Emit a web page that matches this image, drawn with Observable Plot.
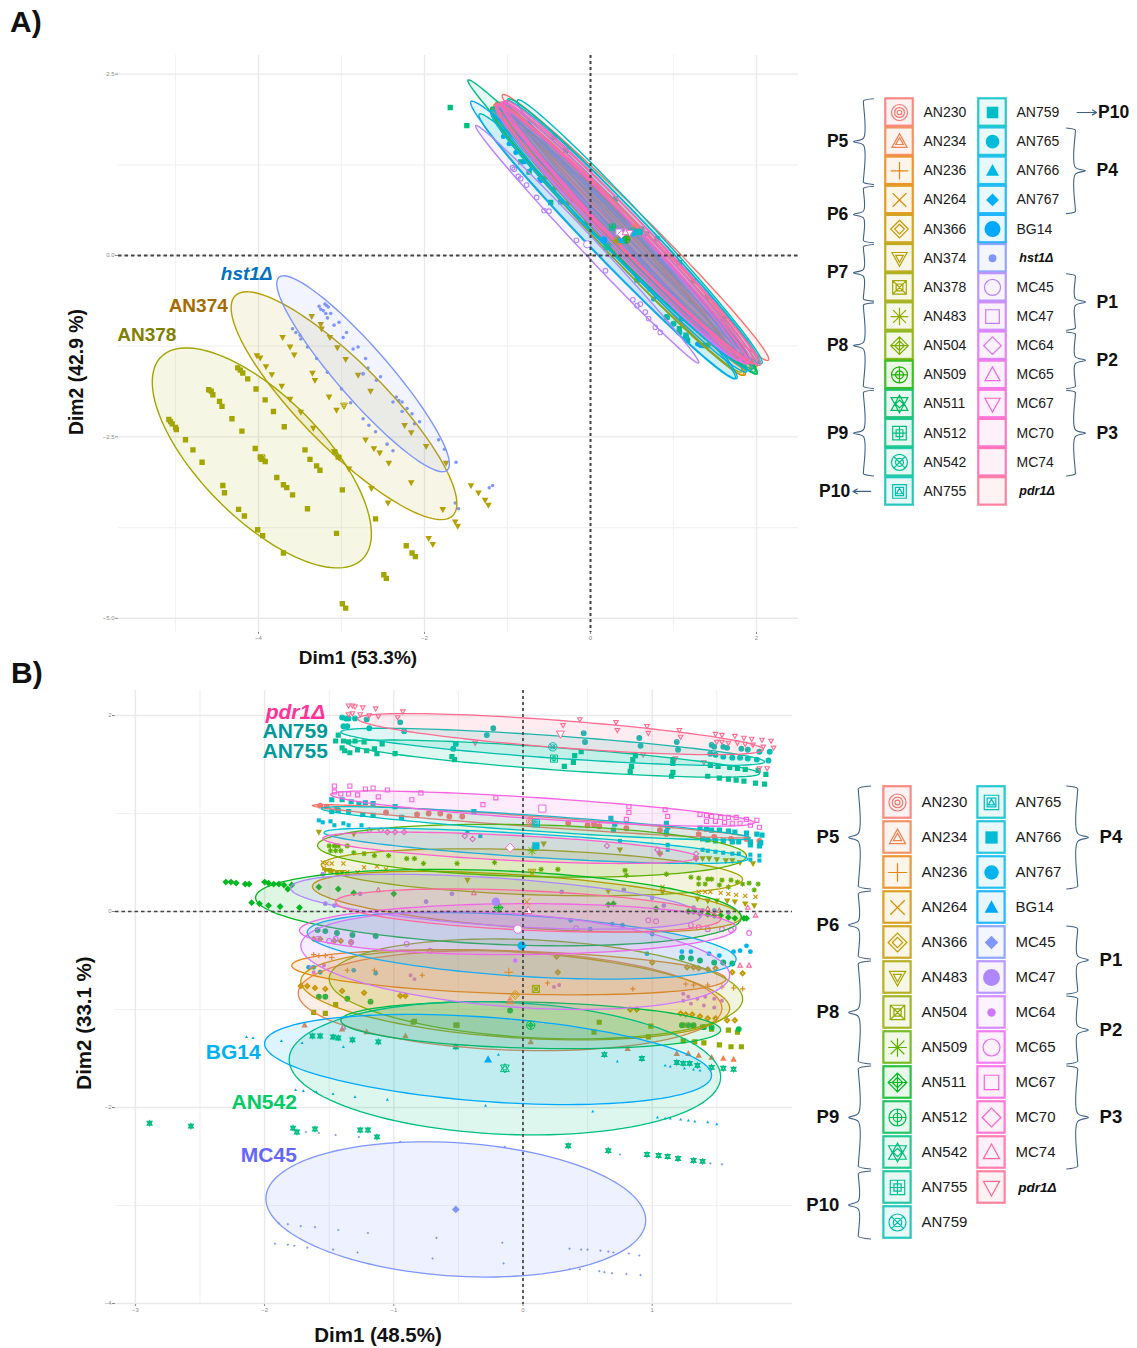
<!DOCTYPE html>
<html><head><meta charset="utf-8">
<script src="https://cdn.jsdelivr.net/npm/d3@7"></script>
<script src="https://cdn.jsdelivr.net/npm/@observablehq/plot@0.6"></script>
<style>
html,body{margin:0;padding:0;background:#fff;width:1137px;height:1348px;overflow:hidden;font-family:"Liberation Sans",Arial,sans-serif}
#page{position:relative;width:1137px;height:1348px}
#page>div{position:absolute}
#page svg{display:block;background:transparent}
.panel{font-weight:700;font-size:30px;color:#111}
.axl{font-weight:700;color:#111;white-space:nowrap;transform:translate(-50%,-50%)}
.axv{transform:translate(-50%,-50%) rotate(-90deg)}
</style></head><body><div id="page"></div>
<script>
// ---------- Panel A ----------
const namesA=["AN230","AN234","AN236","AN264","AN366","AN374","AN378","AN483","AN504","AN509","AN511","AN512","AN542","AN755","AN759","AN765","AN766","AN767","BG14","hst1Δ","MC45","MC47","MC64","MC65","MC67","MC70","MC74","pdr1Δ"];
const colorsA=["#F8766D","#F1814F","#E68613","#DE8C00","#C99800","#B5A000","#A3A500","#93AA00","#7CAE00","#1DB300","#00BA60","#00BF7D","#00C094","#00C0AF","#00BFC4","#00BBDA","#00B8E7","#00B0F6","#00A9FF","#7F96FF","#B385FF","#C77CFF","#DC71FA","#EF67EB","#FB61D7","#FF61C3","#FF64B0","#FF6C91"];
const shapesA=["ring","tri2","plus","cross","dia2","inv2","boxx","aster","diaplus","cirplus","star","boxplus","cirx","boxtri","fsquare","fcircle","ftri","fdia","fbig","fsmall","ocircle","osquare","odia","otri","oinv",null,null,null];
const meanXA=[.542,.432,.382,.372,.342,-2.97,-3.96,.311,.442,.432,.392,.265,.512,.201,.593,.512,.372,.362,.161,-2.74,-.04,.342,.372,.422,.472,.392,.462,.452];
const meanYA=[.386,.288,.253,.23,.196,-2.07,-2.79,.207,.276,.219,.219,.391,.334,.127,.327,.311,.207,.219,.214,-1.63,.155,.322,.288,.322,.311,.299,.322,.288];
const sdXA=[1.606,1.576,1.546,1.476,1.526,1.36,1.32,1.516,1.526,1.576,1.596,1.743,1.516,1.546,1.476,1.536,1.576,1.526,1.606,1.04,1.345,1.466,1.516,1.506,1.536,1.516,1.506,1.596];
const sdYA=[1.833,1.826,1.837,1.883,1.849,1.57,1.516,1.814,1.837,1.849,1.826,2.03,1.826,1.826,1.819,1.826,1.791,1.826,1.913,1.35,1.638,1.768,1.78,1.791,1.803,1.791,1.814,1.803];
const rhoA=[-.99,-.988,-.986,-.988,-.986,-.86,-.69,-.988,-.986,-.988,-.986,-.995,-.988,-.99,-.99,-.986,-.986,-.986,-.989,-.92,-.995,-.986,-.986,-.988,-.986,-.988,-.986,-.988];
const A_AN378=[[-5.08,-2.26],[-5.06,-2.29],[-5.04,-2.32],[-5,-2.37],[-4.99,-2.4],[-4.88,-2.54],[-4.79,-2.68],[-4.68,-2.85],[-4.6,-1.85],[-4.57,-1.87],[-4.55,-1.92],[-4.47,-2.01],[-4.44,-2.08],[-4.32,-2.25],[-4.2,-2.42],[-4.04,-2.66],[-3.98,-2.78],[-3.96,-2.81],[-3.92,-2.84],[-4.43,-3.17],[-4.41,-3.27],[-4.24,-3.5],[-4.17,-3.59],[-4.01,-3.78],[-3.95,-3.86],[-3.7,-4.1],[-4.25,-1.55],[-4.22,-1.58],[-4.19,-1.62],[-4.13,-1.7],[-4.03,-1.84],[-3.92,-1.99],[-3.82,-2.15],[-3.69,-2.36],[-3.44,-2.68],[-3.38,-2.81],[-3.3,-2.9],[-3.26,-2.96],[-3.78,-3.06],[-3.7,-3.16],[-3.66,-3.2],[-3.59,-3.3],[-3.41,-3.49],[-2.99,-3.23],[-3.06,-3.83],[-2.59,-3.63],[-2.22,-4],[-2.15,-4.1],[-2.11,-4.15],[-2.49,-4.4],[-2.46,-4.45],[-2.99,-4.8],[-2.95,-4.86],[-3.08,-2.71],[-3.04,-2.78]];
const A_AN374=[[-3.36,-.84],[-3.25,-.95],[-3.24,-1.01],[-3.14,-1.13],[-3.05,-1.27],[-2.95,-1.43],[-3.71,-1.13],[-3.62,-1.26],[-3.57,-1.37],[-4.02,-1.38],[-3.98,-1.41],[-3.91,-1.53],[-3.84,-1.64],[-3.72,-1.8],[-3.62,-1.98],[-3.49,-2.16],[-3.34,-2.38],[-3.35,-1.62],[-3.32,-1.72],[-3.15,-1.95],[-3.06,-2.13],[-2.8,-1.65],[-2.65,-1.87],[-2.71,-2.54],[-2.61,-2.66],[-2.54,-2.72],[-2.43,-2.86],[-2.16,-3.13],[-2.24,-2.34],[-2.16,-2.44],[-1.98,-2.63],[-1.74,-2.86],[-1.44,-3.17],[-1.35,-3.27],[-1.27,-3.37],[-1.23,-3.44],[-1.78,-3.5],[-1.63,-3.67],[-1.6,-3.73],[-1.95,-3.9],[-1.9,-3.98],[-3.09,-2.7],[-3.03,-2.79],[-2.91,-2.94],[-2.64,-3.21],[-2.44,-3.41]];
const A_hst1=[[-3.27,-.7],[-3.25,-.74],[-3.22,-.76],[-3.2,-.67],[-3.18,-.69],[-3.16,-.71],[-3.13,-.8],[-3.19,-.8],[-3.17,-.86],[-3.09,-.96],[-3.03,-.92],[-2.94,-1.06],[-2.98,-1.13],[-3.59,-1.01],[-3.55,-1.06],[-3.5,-1.1],[-3.49,-1.15],[-3.41,-1.26],[-3.3,-1.42],[-3.17,-1.61],[-3,-1.84],[-2.89,-2.03],[-2.86,-1.29],[-2.8,-1.26],[-2.71,-1.42],[-2.68,-1.55],[-2.58,-1.72],[-2.53,-1.67],[-2.34,-1.95],[-2.31,-2],[-2.38,-2.02],[-2.27,-2.02],[-2.21,-2.11],[-2.27,-2.15],[-2.15,-2.18],[-2.12,-2.32],[-2.06,-2.29],[-2.74,-2.25],[-2.67,-2.34],[-2.59,-2.43],[-2.45,-2.6],[-2.38,-2.69],[-1.83,-2.54],[-1.76,-2.67],[-1.62,-2.85],[-1.59,-3.49],[-1.63,-3.41],[-1.22,-3.2],[-1.18,-3.17]];
const A_MC45=[[-.94,1.21],[-.92,1.19],[-.87,1.09],[-.84,1.06],[-.77,.97],[-.65,.8],[-.56,.62],[-.5,.61],[-.17,.21],[.18,-.21],[.51,-.61],[.56,-.69],[.6,-.67],[.66,-.78],[.7,-.87],[.78,-.99],[.84,-1.06]];
const A_AN512=[[-1.69,2.04],[-1.49,1.79],[-.84,1.29],[-.74,1.15],[-.48,.73],[-.04,.46],[.92,-.85],[1.07,-1.01],[1.17,-1.17],[1.37,-1.24]];
const A_BG14=[[-1.05,1.64],[-.98,1.54],[-.9,1.42],[-.8,1.29],[-.78,1.31],[-.6,1.03],[-.36,.74],[.76,-.6],[1.29,-1.22],[1.33,-1.24]];
const A_AN755=[[-.36,.74],[.56,-.34],[.72,-.46],[1.1,-.87],[1.15,-1.1],[1.24,-.35],[1.07,-.1],[.3,.78],[.08,.94],[-.3,1.45],[-.44,1.63],[.6,.35],[.8,.23],[1.41,-.57],[1.61,-.87]];
const A_AN504=[[-.56,1.06],[-.42,.94],[-.26,.74],[.48,.3],[1.41,-1.24]];
const A_AN542=[[.92,-.85],[1,-.94],[1.07,-1.06],[1.15,-1.12]];
const A_AN767=[[1.29,-1.22],[1.31,-1.24],[-.78,1.29],[-.72,1.19],[-.62,1.06]];
const A_AN765=[[.62,.37],[.68,.3]];
const pointsA={AN378:A_AN378,AN374:A_AN374,"hst1Δ":A_hst1,MC45:A_MC45,AN512:A_AN512,BG14:A_BG14,AN755:A_AN755,AN504:A_AN504,AN542:A_AN542,AN767:A_AN767,AN765:A_AN765};
const calloutsA=["hst1Δ","AN374","AN378"], calloutXA=[-3.83,-4.37,-4.99], calloutYA=[-.25,-.7,-1.1], calloutColorA=["#0070C0","#A36C00","#808000"];

// ---------- Panel B ----------
const namesB=["AN230","AN234","AN236","AN264","AN366","AN483","AN504","AN509","AN511","AN512","AN542","AN755","AN759","AN765","AN766","AN767","BG14","MC45","MC47","MC64","MC65","MC67","MC70","MC74","pdr1Δ"];
const colorsB=["#F8766D","#F1814F","#E68613","#D89000","#C69900","#ABA300","#93AA00","#5FB000","#00B81F","#00BB4E","#00BF7D","#00C094","#00BFB0","#00BFC4","#00BCD8","#00B4EF","#00A9FF","#7F96FF","#AE87FF","#CF78FF","#ED68ED","#F763E0","#FF61CC","#FF68A1","#FF6C91"];
const shapesB=["ring","tri2","plus","cross","dia2","inv2","boxx","aster","diaplus","cirplus","star","boxplus","cirx","boxtri","fsquare","fcircle","ftri","fdia","fbig","fsmall","ocircle","osquare","odia","otri","oinv"];
const meanXB=[.06,-.1,-.11,.03,-.06,.07,.1,.07,-.19,.06,-.14,.24,.23,.1,.1,-.01,-.27,-.52,-.21,-.06,-.04,.15,-.1,.04,.29];
const meanYB=[.92,-.91,-.62,.1,-.85,.4,-.79,.62,.04,-1.16,-1.6,1.56,1.68,.9,.67,-.35,-1.51,-3.04,.1,-.5,-.18,1.05,.65,.01,1.81];
const sdXB=[1.69,1.64,1.68,1.66,1.66,1.63,1.6,1.66,1.88,1.47,1.67,1.59,1.64,1.66,1.64,1.66,1.73,1.47,1.59,1.66,1.69,1.64,1.45,1.49,1.57];
const sdYB=[.17,.51,.23,.31,.46,.24,.51,.27,.39,.24,.68,.19,.19,.17,.18,.34,.46,.69,.28,.5,.26,.18,.16,.22,.21];
const rhoB=[-.95,-.15,-.3,-.5,-.3,-.3,-.2,-.2,-.26,-.2,-.13,-.8,-.8,-.88,-.75,-.4,-.35,-.16,-.5,-.3,.05,-.8,-.6,-.4,-.75];
const B_AN230=[[-1.57,1.08],[-1.52,1.07],[-1.44,1.05],[-1.06,1.01],[-.82,.99],[-.73,1],[-.64,1],[-.57,.97],[-.47,.97],[.35,.9],[.5,.88],[.55,.89],[.59,.87],[.8,.85],[1.06,.83],[1.11,.79],[1.36,.79],[1.48,.76],[1.61,.74],[1.73,.74],[1.83,.72]];
const B_AN234=[[-1.69,-1.16],[-1.4,-1.2],[-1.21,-1.23],[-.91,-1.27],[.06,-1.33],[.81,-1.4],[1.19,-1.45],[1.28,-1.45],[1.36,-1.47],[1.46,-1.49],[1.55,-1.5],[1.63,-1.51]];
const B_AN236=[[-1.62,-.44],[-1.58,-.45],[-1.53,-.45],[-1.48,-.47],[-1.36,-.6],[-1.15,-.6],[-.78,-.65],[.19,-.73],[.85,-.79],[1.26,-.74],[1.32,-.75],[1.43,-.75],[1.54,-.77],[1.63,-.78],[1.7,-.79]];
const B_AN264=[[-1.55,.5],[-1.52,.49],[-1.48,.49],[-1.39,.49],[-1.23,.45],[-1.13,.46],[-1.06,.43],[-1.54,.44],[-1.36,.4],[-1.28,.4],[1.08,.25],[1.36,.2],[1.41,.2],[1.45,.2],[1.53,.19],[1.59,.18],[1.65,.17],[1.72,.16],[1.8,.15]];
const B_AN366=[[1.27,-.57],[1.32,-.57],[1.36,-.58],[1.43,-.59],[1.49,-.58],[1.62,-.62],[1.7,-.63],[1.22,-1.04],[1.26,-1.05],[1.31,-1.05],[1.37,-1.07],[1.43,-1.09],[1.49,-1.09],[1.58,-1.11],[1.64,-1.11],[.83,-1],[.88,-1],[1,-.52],[.26,-.46],[.27,-.62],[-1.62,-.28],[-1.57,-.28],[-1.46,-.3],[-1.41,-.3],[-1.33,-.32],[-1.72,-.76],[-1.67,-.76],[-1.61,-.78],[-1.53,-.79],[-1.4,-.81],[-1.23,-.83],[-.95,-.86],[-.91,-.86]];
const B_AN483=[[-1.58,.81],[-1.31,.79],[-1.53,.42],[-1.5,.42],[-1.48,.41],[-1.44,.4],[-1.4,.4],[-.43,.32],[.16,.69],[.75,.63],[1.06,.59],[1.34,.54],[1.39,.54],[1.44,.54],[1.5,.53],[1.57,.52],[1.62,.52],[1.68,.5],[1.78,.49],[.66,.21],[1.08,.2],[1.35,.13],[1.43,.11],[1.5,.11],[1.58,.11],[1.64,.1],[1.72,.08],[1.79,.06]];
const B_AN504=[[1.24,-1.32],[1.33,-1.33],[1.4,-1.34],[1.52,-1.36],[1.61,-1.38],[1.69,-1.38],[1.24,-1.16],[1.32,-1.17],[1.39,-1.18],[1.46,-1.2],[1.59,-1.21],[1.66,-1.23],[-.85,-1.13],[-.52,-1.16],[.55,-1.23],[.59,-1.13],[.97,-1.28],[.99,-1.17],[-1.62,-1.03],[-1.53,-1.04],[-1.45,-.95],[-.84,-1.12],[-.51,-1.16]];
const B_AN509=[[-1.5,.67],[-1.46,.67],[-1.43,.67],[-1.49,.62],[-1.45,.62],[-1.41,.62],[-1.36,.67],[-1.31,.6],[-1.23,.59],[-1.15,.57],[-1.04,.57],[-.9,.54],[-.84,.54],[-.77,.49],[-.51,.49],[-.22,.5],[.14,.43],[.27,.43],[.79,.42],[.8,.37],[1.11,.38],[1.3,.35],[1.36,.34],[1.43,.33],[1.46,.33],[1.54,.32],[1.61,.32],[1.66,.3],[1.75,.29],[1.82,.28],[1.36,.28],[1.41,.28],[1.52,.27],[1.59,.25],[1.7,.28],[1.79,.22]];
const B_AN511=[[-2.3,.3],[-2.26,.3],[-2.22,.29],[-2.15,.28],[-2.12,.28],[-2,.3],[-1.97,.29],[-1.93,.28],[-1.89,.28],[-1.85,.27],[-1.79,.27],[-1.82,.23],[-2.1,.09],[-2.04,.08],[-1.97,.06],[-1.88,.05],[-1.73,.04],[-1.58,.25],[-1.43,.23],[-1.31,.19],[-1,.18],[.66,.07],[.7,.08],[1.03,.03],[1.28,0],[1.32,0],[1.37,-.02],[1.43,-.03],[1.48,-.04],[1.53,-.04],[1.59,-.06],[1.64,-.07],[1.71,-.07],[1.73,-.07]];
const B_AN512=[[1.23,-.47],[1.3,-.48],[1.37,-.5],[1.48,-.52],[1.55,-.52],[1.62,-.53],[1.23,-1.16],[1.28,-1.16],[1.32,-1.16],[1.4,-1.18],[1.46,-1.18],[1.67,-1.2],[-1.59,-.19],[-1.53,-.2],[-1.44,-.22],[-1.32,-.24],[-1.14,-.25],[-1.58,-.87],[-1.53,-.87],[-1.36,-.89],[-1.18,-.92],[-.1,-1.01]];
const B_AN542=[[-2.89,-2.16],[-2.57,-2.19],[-1.78,-2.21],[-1.75,-2.25],[-1.61,-2.22],[-1.26,-2.23],[-1.2,-2.23],[-1.13,-2.3],[-1.63,-1.27],[-1.57,-1.27],[-1.47,-1.28],[-1.43,-1.29],[-1.32,-1.31],[-1.12,-1.33],[-.52,-1.38],[.63,-1.46],[.92,-1.5],[1.19,-1.54],[1.24,-1.55],[1.29,-1.55],[1.35,-1.57],[1.46,-1.59],[1.55,-1.6],[1.63,-1.61],[.35,-2.39],[.66,-2.44],[.96,-2.48],[1.05,-2.49],[1.12,-2.5],[1.2,-2.52],[1.32,-2.54],[1.39,-2.55]];
const B_AN755=[[-1.43,1.8],[-1.45,1.74],[-1.39,1.74],[-1.35,1.73],[-1.3,1.74],[-1.23,1.73],[-1.09,1.71],[-1.4,1.67],[-1.38,1.64],[-1.34,1.62],[-1.28,1.65],[-1.21,1.64],[-1.15,1.66],[-1.13,1.61],[-.99,1.61],[-.55,1.58],[-.53,1.55],[.4,1.59],[.45,1.63],[.39,1.52],[.32,1.48],[.87,1.59],[.85,1.55],[.84,1.48],[.83,1.43],[1.16,1.55],[1.16,1.51],[1.16,1.42],[1.15,1.38],[1.45,1.49],[1.51,1.48],[1.6,1.47],[1.66,1.46],[1.72,1.45],[1.82,1.44],[1.88,1.4],[1.43,1.38],[1.52,1.36],[1.59,1.35],[1.65,1.34],[1.71,1.33],[1.8,1.31],[1.87,1.3]];
const B_AN759=[[-1.4,1.98],[-1.37,1.97],[-1.35,1.97],[-1.3,1.97],[-1.21,1.96],[-.95,1.93],[-.92,1.84],[-1.39,1.89],[-1.36,1.89],[-1.19,1.87],[-.23,1.87],[-.28,1.8],[-.52,1.71],[-.54,1.66],[.47,1.82],[.48,1.73],[.9,1.77],[.91,1.69],[1.19,1.73],[1.2,1.65],[1.46,1.7],[1.48,1.68],[1.55,1.68],[1.58,1.67],[1.69,1.66],[1.74,1.65],[1.83,1.63],[1.91,1.63],[1.45,1.61],[1.49,1.6],[1.55,1.58],[1.62,1.57],[1.68,1.57],[1.74,1.56],[1.81,1.55],[1.9,1.54]];
const B_AN765=[[-1.48,1.14],[-1.4,1.14],[-1.33,1.12],[-1.27,1.1],[-1.22,1.11],[-1.16,1.1],[-1.48,1.02],[-1.43,1.03],[-1.35,1.02],[-1.24,.99],[-1.16,.98],[-.99,1.07],[-.94,.96],[-.38,1.02],[.68,.95],[.71,.89],[.7,.83],[1.11,.9],[1.12,.86],[1.11,.81],[1.37,.85],[1.42,.84],[1.46,.83],[1.52,.83],[1.59,.82],[1.64,.81],[1.73,.8],[1.81,.79],[1.85,.78],[1.39,.74],[1.43,.73],[1.49,.72],[1.55,.72],[1.62,.71],[1.67,.71],[1.76,.71],[1.84,.7],[1.76,.68],[1.83,.67]];
const B_AN766=[[-1.58,.93],[-1.55,.91],[-1.49,.92],[-1.46,.88],[-1.39,.9],[-1.35,.88],[-1.25,.88],[-.43,.81],[-.33,.77],[.75,.72],[1.12,.68],[1.12,.63],[1.39,.63],[1.43,.62],[1.49,.61],[1.55,.6],[1.62,.59],[1.67,.59],[1.76,.58],[1.83,.57],[1.76,.53],[1.83,.52]];
const B_AN767=[[1.23,-.41],[1.3,-.41],[1.44,-.43],[1.52,-.45],[1.63,-.41],[1.68,-.4],[1.73,-.35],[1.76,-.41],[-1.66,-.57],[-1.62,-.57],[-1.57,-.62],[-1.31,-.6],[-1.14,-.63],[.37,-.09],[.52,-.18],[.69,-.13],[.77,-.14],[1,-.23],[.96,-.43]];
const B_BG14=[[-2.14,-1.28],[-2.09,-1.29],[-1.87,-1.32],[-1.71,-1.34],[-1.39,-1.38],[-1.76,-1.82],[-1.7,-1.83],[-1.6,-1.84],[-1.47,-1.86],[-1.3,-1.89],[-1.05,-1.92],[-.29,-1.98],[.54,-2.04],[.73,-1.53],[-.19,-1.46],[1.1,-1.57],[1.14,-1.58],[1.25,-1.6],[1.32,-1.61],[1.37,-1.62],[1.04,-2.1],[1.1,-2.11],[1.14,-2.11],[1.22,-2.12],[1.28,-2.13],[1.33,-2.14],[1.43,-2.15],[1.5,-2.17]];
const B_MC45=[[-1.89,-3.18],[-1.82,-3.19],[-1.72,-3.21],[-1.61,-3.22],[-1.43,-3.25],[-1.2,-3.28],[-.67,-3.33],[-.16,-3.38],[-1.92,-3.39],[-1.82,-3.4],[-1.77,-3.41],[-1.67,-3.43],[-1.47,-3.45],[-1.28,-3.48],[-.7,-3.54],[-.15,-3.59],[.36,-3.44],[.45,-3.45],[.5,-3.45],[.6,-3.46],[.66,-3.47],[.7,-3.48],[.82,-3.49],[.9,-3.51],[.36,-3.65],[.44,-3.65],[.59,-3.67],[.63,-3.68],[.69,-3.69],[.8,-3.7],[.91,-3.71],[.75,-2.48],[1.45,-2.57],[1.54,-2.58],[-.95,-2.35],[-.14,-2.4],[-1.45,-2.28],[-1.27,-2.3],[-1.68,-2.25],[-1.58,-2.26]];
const B_MC47=[[-1.55,.38],[-1.46,.06],[-1.53,.08],[-1.26,.18],[-.75,.1],[-.55,.18],[.3,.2],[.78,.22],[1,.14],[1.09,.06],[1.32,.04],[1.39,.01],[1.48,.01],[1.59,-.01]];
const B_MC64=[[1.24,-.84],[1.28,-.87],[1.35,-.89],[1.41,-.87],[1.48,-.89],[1.54,-.91],[1.24,-.91],[1.3,-.94],[1.4,-.96],[1.48,-.98],[.24,-.77],[.28,-.75],[-1.64,-.57],[-1.62,-.62],[-1.54,-.55],[-.87,-.65],[-.84,-.69]];
const B_MC65=[[1.3,-.14],[1.36,-.16],[1.43,-.18],[1.54,-.18],[1.61,-.19],[1.75,-.22],[.97,-.09],[1.03,-.1],[.41,-.17],[-1.59,-.28],[-1.5,-.3],[-1.45,-.28],[-1.33,-.31],[-.9,-.33],[-.72,-.4]];
const B_MC67=[[-1.46,1.28],[-1.46,1.22],[-1.34,1.28],[-1.22,1.25],[-1.16,1.26],[-1.05,1.24],[-1.35,1.2],[-1.41,1.2],[-1.28,1.19],[-1.12,1.17],[-.86,1.14],[-.79,1.21],[-.31,1.09],[-.21,1.16],[.82,1.07],[.82,1.01],[1.1,1.04],[1.12,.97],[1.37,.99],[1.42,.98],[1.46,.97],[1.53,.96],[1.59,.96],[1.65,.96],[1.73,.94],[1.81,.93],[1.42,.92],[1.49,.92],[1.56,.91],[1.62,.9],[1.68,.9],[1.76,.88],[1.83,.86],[.8,.94]];
const B_MC70=[[-1.19,.83],[-1.1,.83],[-1.05,.81],[-.99,.81],[-.92,.81],[-.45,.77],[-.39,.74],[.65,.67],[1.04,.63],[1.06,.59],[1.34,.59],[1.34,.54]];
const B_MC74=[[-1.12,.22],[-.38,.19],[1.43,.03],[1.52,.01],[1.8,-.04],[1.75,-.55],[1.68,-.55],[1.74,.04],[-1.39,-1.18]];
const B_pdr1=[[-1.35,2.1],[-1.32,2.1],[-1.3,2.09],[-1.24,2.08],[-1.14,2.07],[-1.35,2.01],[-1.32,2.02],[-1.26,2.01],[-1.19,2],[-1.12,1.99],[-.97,1.98],[-.93,2.04],[-.37,1.72],[.31,1.9],[.44,1.96],[.72,1.93],[.73,1.85],[.96,1.89],[.97,1.82],[1.21,1.85],[1.22,1.78],[1.49,1.81],[1.54,1.8],[1.64,1.79],[1.71,1.77],[1.77,1.76],[1.85,1.75],[1.92,1.74],[1.5,1.73],[1.54,1.73],[1.59,1.72],[1.66,1.72],[1.72,1.71],[1.78,1.7],[1.86,1.68],[1.94,1.67],[1.89,1.46],[1.4,1.52],[1.83,1.46],[1.18,1.56],[.93,1.6]];
const pointsB={AN230:B_AN230,AN234:B_AN234,AN236:B_AN236,AN264:B_AN264,AN366:B_AN366,AN483:B_AN483,AN504:B_AN504,AN509:B_AN509,AN511:B_AN511,AN512:B_AN512,AN542:B_AN542,AN755:B_AN755,AN759:B_AN759,AN765:B_AN765,AN766:B_AN766,AN767:B_AN767,BG14:B_BG14,MC45:B_MC45,MC47:B_MC47,MC64:B_MC64,MC65:B_MC65,MC67:B_MC67,MC70:B_MC70,MC74:B_MC74,"pdr1Δ":B_pdr1};
const calloutsB=["pdr1Δ","AN759","AN755","BG14","AN542","MC45"], calloutXB=[-1.53,-1.51,-1.51,-2.03,-1.75,-1.75], calloutYB=[2.03,1.84,1.64,-1.44,-1.95,-2.49], calloutColorB=["#FF3399","#009999","#009999","#00B0F0","#00CC66","#6666FF"];

// ---------- Legend groupings ----------
const bracketsA=[["P5",0,0,2],["P6",0,3,4],["P7",0,5,6],["P8",0,7,9],["P9",0,10,12],["P4",1,1,3],["P1",1,6,7],["P2",1,8,9],["P3",1,10,12]];
const bracketsB=[["P5",0,0,2],["P6",0,3,4],["P8",0,5,7],["P9",0,8,10],["P10",0,11,12],["P4",1,0,2],["P1",1,4,5],["P2",1,6,7],["P3",1,8,10]];

// ---------- Glyphs ----------
function circ(c,r){c.moveTo(r,0);c.arc(0,0,r,0,2*Math.PI);c.closePath();}
function poly(c,pts,r){pts.forEach((p,i)=>i?c.lineTo(p[0]*r,p[1]*r):c.moveTo(p[0]*r,p[1]*r));c.closePath();}
function seg(c,a,b,r){c.moveTo(a[0]*r,a[1]*r);c.lineTo(b[0]*r,b[1]*r);}
const TRI=[[0,-1],[.95,.72],[-.95,.72]],INV=[[0,1],[.95,-.72],[-.95,-.72]],DIA=[[0,-1.1],[1.1,0],[0,1.1],[-1.1,0]],SQ=[[-.85,-.85],[.85,-.85],[.85,.85],[-.85,.85]];
const scale=(p,k)=>p.map(q=>[q[0]*k,q[1]*k]);
const glyphs={
 ring:(c,r)=>{circ(c,r);circ(c,r*.62);circ(c,r*.28);},
 tri2:(c,r)=>{poly(c,TRI,r);poly(c,scale(TRI,.5),r);},
 plus:(c,r)=>{seg(c,[-1.1,0],[1.1,0],r);seg(c,[0,-1.1],[0,1.1],r);},
 cross:(c,r)=>{seg(c,[-.85,-.85],[.85,.85],r);seg(c,[-.85,.85],[.85,-.85],r);},
 dia2:(c,r)=>{poly(c,DIA,r);poly(c,scale(DIA,.55),r);},
 inv2:(c,r)=>{poly(c,INV,r);poly(c,scale(INV,.5),r);},
 boxx:(c,r)=>{poly(c,SQ,r);poly(c,scale(SQ,.5),r);seg(c,[-.85,-.85],[.85,.85],r);seg(c,[-.85,.85],[.85,-.85],r);},
 aster:(c,r)=>{seg(c,[-1.1,0],[1.1,0],r);seg(c,[0,-1.1],[0,1.1],r);seg(c,[-.8,-.8],[.8,.8],r);seg(c,[-.8,.8],[.8,-.8],r);},
 diaplus:(c,r)=>{poly(c,DIA,r);poly(c,scale(DIA,.55),r);seg(c,[-1.1,0],[1.1,0],r);seg(c,[0,-1.1],[0,1.1],r);},
 cirplus:(c,r)=>{circ(c,r);circ(c,r*.5);seg(c,[-1,0],[1,0],r);seg(c,[0,-1],[0,1],r);},
 star:(c,r)=>{poly(c,scale(TRI,1.1),r);poly(c,scale(INV,1.1),r);poly(c,scale(DIA,.45),r);},
 boxplus:(c,r)=>{poly(c,SQ,r);poly(c,scale(SQ,.5),r);seg(c,[-.85,0],[.85,0],r);seg(c,[0,-.85],[0,.85],r);},
 cirx:(c,r)=>{circ(c,r);circ(c,r*.5);seg(c,[-.72,-.72],[.72,.72],r);seg(c,[-.72,.72],[.72,-.72],r);},
 boxtri:(c,r)=>{poly(c,SQ,r);poly(c,scale(SQ,.6),r);poly(c,scale(TRI,.4),r);},
 fsquare:(c,r)=>poly(c,SQ,r), fcircle:circ, ftri:(c,r)=>poly(c,TRI,r), fdia:(c,r)=>poly(c,scale(DIA,.85),r), fbig:circ, fsmall:(c,r)=>circ(c,r*.55),
 ocircle:circ, osquare:(c,r)=>poly(c,SQ,r), odia:(c,r)=>poly(c,DIA,r), otri:(c,r)=>poly(c,TRI,r), oinv:(c,r)=>poly(c,INV,r)
};
const symbolOf=k=>({draw(ctx,size){glyphs[k](ctx,Math.sqrt(size/Math.PI));}});
const isFilled=k=>k[0]==="f", isOpen=k=>k[0]==="o";

function ellipsePath(mx,my,sx,sy,rho){const phi=Math.acos(rho);return d3.range(0,121).map(i=>{const t=i/120*2*Math.PI;return {x:mx+sx*Math.cos(t),y:my+sy*Math.cos(t+phi)};});}

function scatterMarks(names,colors,shapes,pts,mx,my,sx,sy,rho,rp,rm,ew,fo){
  const out=[];
  names.forEach((n,i)=>{const k=shapes[i];if(k&&pts[n])out.push(Plot.dot(pts[n],{x:d=>d[0],y:d=>d[1],r:rp(n,k),symbol:symbolOf(k),stroke:colors[i],strokeWidth:isFilled(k)?0:1.1,fill:isFilled(k)?colors[i]:"none"}));});
  names.forEach((n,i)=>{out.push(Plot.line(ellipsePath(mx[i],my[i],sx[i],sy[i],rho[i]),{x:"x",y:"y",stroke:colors[i],strokeWidth:ew,fill:colors[i],fillOpacity:fo}));});
  names.forEach((n,i)=>{const k=shapes[i];if(k)out.push(Plot.dot([[mx[i],my[i]]],{x:d=>d[0],y:d=>d[1],r:rm,symbol:symbolOf(k),stroke:colors[i],strokeWidth:isFilled(k)?0:1,fill:isFilled(k)?colors[i]:(isOpen(k)?"white":"none")}));});
  return out;
}

function chart(o){
 return Plot.plot({width:o.w,height:o.h,marginLeft:o.ml,marginRight:o.mr,marginTop:o.mt,marginBottom:o.mb,
  style:{fontFamily:"Liberation Sans",background:"transparent"},
  x:{domain:o.xd,label:null},y:{domain:o.yd,label:null},
  marks:[
   Plot.ruleX(o.xMinor,{stroke:"#f2f2f2",strokeWidth:1.2}),Plot.ruleY(o.yMinor,{stroke:"#f2f2f2",strokeWidth:1.2}),
   Plot.ruleX(o.xMajor,{stroke:"#e9e9e9",strokeWidth:1.4}),Plot.ruleY(o.yMajor,{stroke:"#e9e9e9",strokeWidth:1.4}),
   Plot.axisX({ticks:o.xMajor,tickSize:2,tickPadding:1,fontSize:6,color:"#8a8a8a",label:null,tickFormat:o.xf}),
   Plot.axisY({ticks:o.yMajor,tickSize:3,tickPadding:1,fontSize:6,color:"#8a8a8a",label:null,tickFormat:o.yf}),
   ...o.marks,
   Plot.ruleX([0],{stroke:"#444",strokeWidth:o.zw,strokeDasharray:"3 3"}),Plot.ruleY([0],{stroke:"#444",strokeWidth:o.zw,strokeDasharray:"3.5 3"}),
   ...o.calloutNames.map((n,i)=>Plot.text([n],{x:o.calloutX[i],y:o.calloutY[i],text:d=>d,fill:o.calloutColor[i],textAnchor:"end",fontSize:o.cf,fontWeight:700,fontStyle:n.includes("Δ")?"italic":"normal"}))
  ]});
}

function legend(o){
 const rows=[];
 o.names.forEach((n,i)=>{const col=i<o.split?0:1,row=i<o.split?i:i-o.split;rows.push({name:n,col,row,color:o.colors[i],k:o.shapes[i]});});
 const plain=rows.filter(d=>!d.name.includes("Δ")),ital=rows.filter(d=>d.name.includes("Δ"));
 const dots=rows.filter(d=>d.k).map(d=>{
   const f=isFilled(d.k),big=d.k==="fbig",rr=f?(big?o.r*1.0:(d.k==="fsmall"?o.r*.9:o.r*.85)):o.r;
   return Plot.dot([d],{x:"col",y:"row",r:rr,symbol:symbolOf(d.k),stroke:d.color,strokeWidth:f?0:1.2,fill:f?d.color:"none"});
 });
 const br=[];
 o.brackets.forEach(([lab,side,a,b])=>{
   const from=a-.47,to=b+.47,mid=(from+to)/2,left=side===0;
   const open=left?-o.open:o.openR,spine=left?-o.spine:o.spineR,nose=left?-o.nose:o.noseR;
   const path=[[open,from],[spine,from+.07],[spine,from+.16],[spine,mid-.12],[nose,mid],[spine,mid+.12],[spine,to-.16],[spine,to-.07],[open,to]];
   br.push(Plot.line(path,{x:d=>d[0],y:d=>d[1],stroke:"#3d6288",strokeWidth:1.1,curve:"catmull-rom"}));
   br.push(Plot.text([lab],{x:left?-o.labelAt:o.labelR,y:mid,text:d=>d,textAnchor:left?"end":"start",fontSize:o.pf,fontWeight:700,fill:"#111"}));
 });
 return Plot.plot({width:o.w,height:o.h,margin:0,axis:null,
  style:{fontFamily:"Liberation Sans",background:"transparent"},
  x:{domain:o.xd,range:[0,o.w]},y:{domain:o.yd,range:[0,o.h]},color:{type:"identity"},
  marks:[
   Plot.rect(rows,{x1:d=>d.col-o.hw,x2:d=>d.col+o.hw,y1:d=>d.row-o.hh,y2:d=>d.row+o.hh,fill:"color",fillOpacity:.09,stroke:"color",strokeWidth:2.2,strokeOpacity:.85}),
   ...dots,
   Plot.text(plain,{x:d=>d.col+o.tx,y:"row",text:"name",textAnchor:"start",fontSize:o.tf,fill:"#1b1b1b"}),
   Plot.text(ital,{x:d=>d.col+o.tx+.03,y:"row",text:"name",textAnchor:"start",fontSize:o.tf-1.5,fontWeight:700,fontStyle:"italic",fill:"#111"}),
   ...br,...(o.extra||[])
  ]});
}

const page=document.getElementById("page");
function put(node,l,t){const d=document.createElement("div");d.style.left=l+"px";d.style.top=t+"px";d.appendChild(node);page.appendChild(d);}
function label(txt,l,t,cls,size){const d=document.createElement("div");d.className=cls;d.textContent=txt;d.style.left=l+"px";d.style.top=t+"px";if(size)d.style.fontSize=size+"px";page.appendChild(d);}

const rpA=(n,k)=>k==="fsmall"?3.2:(k==="ocircle"?2.3:2.5);
const rpB=(n,k)=>n==="MC45"?1.4:n==="BG14"?1.6:k==="fsmall"?3.6:2.4;

put(chart({w:805,h:600,ml:118,mr:7,mt:10,mb:13,xd:[-5.687,2.506],yd:[-5.196,2.756],
 xMajor:[-4,-2,0,2],xMinor:[-5,-3,-1,1],yMajor:[-5,-2.5,0,2.5],yMinor:[-3.75,-1.25,1.25],
 xf:d3.format("d"),yf:d3.format(".1f"),zw:2,cf:19,
 marks:scatterMarks(namesA,colorsA,shapesA,pointsA,meanXA,meanYA,sdXA,sdYA,rhoA,rpA,3.6,1.4,.1),
 calloutNames:calloutsA,calloutX:calloutXA,calloutY:calloutYA,calloutColor:calloutColorA}),0,45);

put(chart({w:795,h:640,ml:115,mr:3,mt:8,mb:18,xd:[-3.154,2.086],yd:[-4.01,2.255],
 xMajor:[-3,-2,-1,0,1],xMinor:[-2.5,-1.5,-.5,.5,1.5],yMajor:[-4,-2,0,2],yMinor:[-3,-1,1],
 xf:d3.format("d"),yf:d3.format("d"),zw:1.7,cf:21,
 marks:scatterMarks(namesB,colorsB,shapesB,pointsB,meanXB,meanYB,sdXB,sdYB,rhoB,rpB,4.2,1.3,.13),
 calloutNames:calloutsB,calloutX:calloutXB,calloutY:calloutYB,calloutColor:calloutColorB}),0,682);

put(legend({names:namesA,colors:colorsA,shapes:shapesA,split:14,brackets:bracketsA,w:332,h:430,xd:[-1.0108,2.559],yd:[-.926,13.825],
 hw:.148,hh:.47,r:8,tx:.258,tf:14,pf:17.5,open:.28,spine:.387,nose:.495,labelAt:.55,openR:1.796,spineR:1.89,noseR:2.0,labelR:2.118,
 extra:[
  Plot.arrow([{x1:-.31,y:13,x2:-.5}],{x1:"x1",y1:"y",x2:"x2",y2:"y",stroke:"#3d6288",strokeWidth:1.2,headLength:6,bend:0}),
  Plot.text(["P10"],{x:-.53,y:13,text:d=>d,textAnchor:"end",fontSize:17.5,fontWeight:700,fill:"#111"}),
  Plot.arrow([{x1:1.91,y:0,x2:2.12}],{x1:"x1",y1:"y",x2:"x2",y2:"y",stroke:"#3d6288",strokeWidth:1.2,headLength:6,bend:0}),
  Plot.text(["P10"],{x:2.135,y:0,text:d=>d,textAnchor:"start",fontSize:17.5,fontWeight:700,fill:"#111"})
 ]}),805,85);

put(legend({names:namesB,colors:colorsB,shapes:shapesB,split:13,brackets:bracketsB,w:342,h:475,xd:[-1.085,2.553],yd:[-.771,12.8],
 hw:.145,hh:.45,r:8.5,tx:.255,tf:15,pf:18.5,open:.285,spine:.415,nose:.52,labelAt:.62,openR:1.8,spineR:1.915,noseR:2.03,labelR:2.15}),795,775);

label("A)",10,5,"panel");
label("B)",11,656,"panel");
label("Dim1 (53.3%)",358,658,"axl",19);
label("Dim2 (42.9 %)",76,372,"axl axv",19.4);
label("Dim1 (48.5%)",378,1335,"axl",20.5);
label("Dim2 (33.1 %)",84,1023,"axl axv",20.5);
</script></body></html>
